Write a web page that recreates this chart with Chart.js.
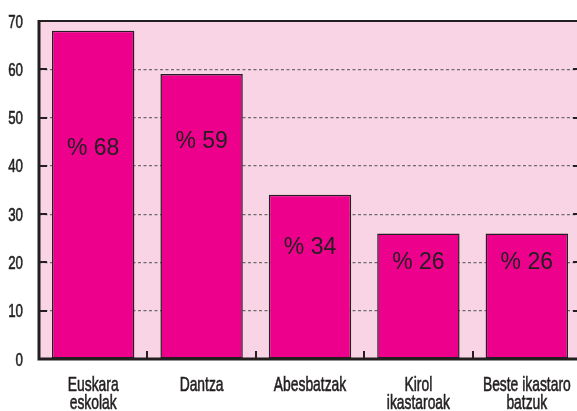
<!DOCTYPE html>
<html>
<head>
<meta charset="utf-8">
<script src="https://cdn.jsdelivr.net/npm/chart.js@4"></script>
<style>
  html, body { margin: 0; padding: 0; background: #fff; overflow: hidden; }
  #wrap { width: 590px; height: 411px; }
</style>
</head>
<body>
<div id="wrap"><canvas id="myChart"></canvas></div>
<script>
// data
const categories = [['Euskara', 'eskolak'], 'Dantza', 'Abesbatzak', ['Kirol', 'ikastaroak'], ['Beste ikastaro', 'batzuk']];
const percents = [68, 59, 34, 26, 26];
const yTicks = [0, 10, 20, 30, 40, 50, 60, 70];

const ink = '#231f20';

// condensed text: the original uses a narrow grotesque, so squeeze Liberation Sans
function narrowText(ctx, text, x, y, size, squeeze, align) {
  ctx.save();
  ctx.font = size + 'px "Liberation Sans", Arial, sans-serif';
  ctx.textAlign = align;
  ctx.translate(x, y);
  ctx.scale(squeeze, 1);
  ctx.lineWidth = 0.6;
  ctx.strokeStyle = ink;
  ctx.fillText(text, 0, 0);
  ctx.strokeText(text, 0, 0);
  ctx.restore();
}

// background, frame, inward ticks, axis labels and the "% nn" labels
const framePlugin = {
  id: 'frame',
  beforeDraw(chart) {
    const { ctx, chartArea: a } = chart;
    ctx.save();
    ctx.fillStyle = '#f9d4e5';
    ctx.fillRect(a.left, a.top, a.right - a.left, a.bottom - a.top);
    ctx.restore();
  },
  afterDraw(chart, args, opts) {
    const { ctx, chartArea: a, scales } = chart;
    const x = scales.x, y = scales.y;
    ctx.save();
    ctx.strokeStyle = ink;
    // top and right border
    ctx.lineWidth = 2;
    ctx.beginPath();
    ctx.moveTo(a.left, a.top);
    ctx.lineTo(a.right, a.top);
    ctx.lineTo(a.right, a.bottom);
    ctx.stroke();
    // left + bottom axis
    ctx.lineWidth = 3;
    ctx.beginPath();
    ctx.moveTo(a.left, a.top - 1);
    ctx.lineTo(a.left, a.bottom);
    ctx.lineTo(a.right, a.bottom);
    ctx.stroke();
    // y ticks inward on both sides
    ctx.lineWidth = 2;
    yTicks.forEach(v => {
      if (v === 0) return;
      const py = Math.round(y.getPixelForValue(v));
      ctx.beginPath();
      ctx.moveTo(a.left, py);
      ctx.lineTo(a.left + 8, py);
      ctx.moveTo(a.right, py);
      ctx.lineTo(a.right - 8, py);
      ctx.stroke();
    });
    // x ticks between categories
    for (let i = 0; i < categories.length - 1; i++) {
      const px = Math.round((x.getPixelForValue(i) + x.getPixelForValue(i + 1)) / 2);
      ctx.beginPath();
      ctx.moveTo(px, a.bottom);
      ctx.lineTo(px, a.bottom - 8);
      ctx.stroke();
    }
    ctx.fillStyle = ink;
    // y tick labels
    ctx.textBaseline = 'alphabetic';
    yTicks.forEach(v => {
      narrowText(ctx, String(v), a.left - 16, y.getPixelForValue(v) + 6.5, 19, 0.7, 'right');
    });
    // x tick labels
    categories.forEach((c, i) => {
      const lines = Array.isArray(c) ? c : [c];
      lines.forEach((t, j) => {
        narrowText(ctx, t, x.getPixelForValue(i), a.bottom + 32 + j * 18, 21, 0.66, 'center');
      });
    });
    // value labels
    ctx.font = '23px "Liberation Sans", Arial, sans-serif';
    ctx.textAlign = 'center';
    ctx.textBaseline = 'middle';
    const meta = chart.getDatasetMeta(0);
    meta.data.forEach((bar, i) => {
      ctx.fillText('% ' + percents[i], bar.x, y.getPixelForValue(opts.labelAt[i]));
    });
    ctx.restore();
  }
};

new Chart('myChart', {
  type: 'bar',
  data: {
    labels: categories,
    datasets: [{
      data: percents,
      backgroundColor: '#ec008c',
      borderColor: ink,
      borderWidth: 1.5,
      borderSkipped: false,
      barPercentage: 0.76,
      categoryPercentage: 1
    }]
  },
  plugins: [framePlugin],
  options: {
    responsive: true,
    maintainAspectRatio: false,
    animation: false,
    layout: { padding: { top: 21, right: 9, left: 0, bottom: 0 } },
    plugins: {
      legend: { display: false },
      tooltip: { enabled: false },
      frame: { labelAt: [43.5, 45, 23, 20, 20] }
    },
    scales: {
      x: {
        grid: { display: false, drawTicks: false },
        border: { display: false },
        ticks: { display: false },
        afterFit(s) { s.height = 52; }
      },
      y: {
        min: 0,
        max: 70,
        afterBuildTicks(s) { s.ticks = yTicks.map(v => ({ value: v })); },
        grid: {
          drawTicks: false,
          color: c => (c.tick && (c.tick.value === 0 || c.tick.value === 70)) ? 'rgba(0,0,0,0)' : '#6f6a6c',
          lineWidth: 1.2
        },
        border: { display: false, dash: [3, 2.5] },
        ticks: { display: false },
        afterFit(s) { s.width = 39; }
      }
    }
  }
});
</script>
</body>
</html>
